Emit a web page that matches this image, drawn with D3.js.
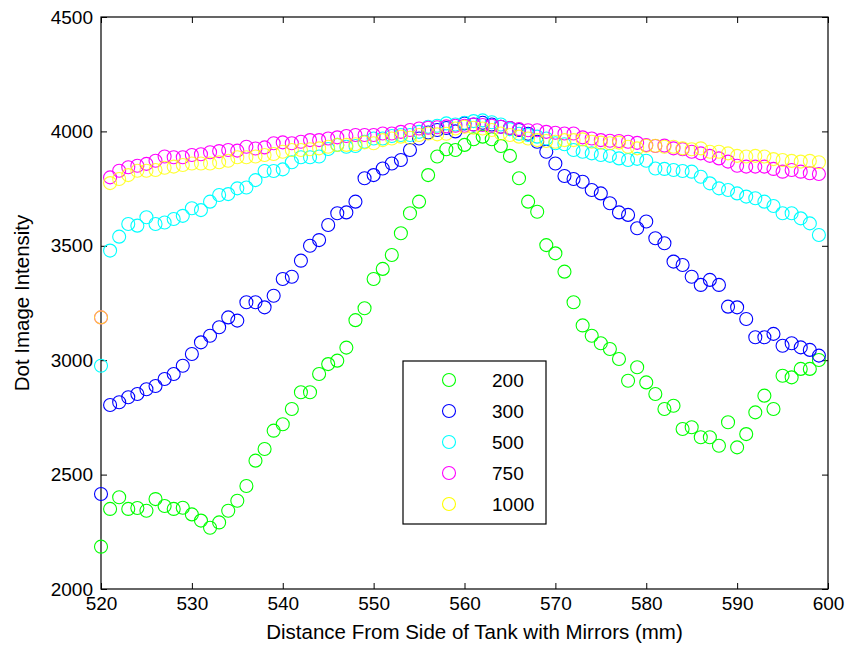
<!DOCTYPE html>
<html>
<head>
<meta charset="utf-8">
<script src="https://cdn.jsdelivr.net/npm/d3@7/dist/d3.min.js"></script>
<style>
  html, body { margin: 0; padding: 0; background: #fff; }
  svg { display: block; }
  text { font-family: "Liberation Sans", Arial, sans-serif; fill: #000; }
</style>
</head>
<body>
<svg id="chart" width="848" height="652"></svg>
<script>
// Distance positions (mm), one reading per millimetre
const distances = d3.range(520, 600);

const seriesNames = ["200", "300", "500", "750", "1000"];
const seriesColors = ["#00ff00", "#0000ff", "#00ffff", "#ff00ff", "#ffff00"];

const values200 = [
  2185, 2350, 2401, 2350, 2354, 2342, 2393, 2363, 2350, 2355,
  2326, 2299, 2268, 2291, 2342, 2386, 2450, 2561, 2612, 2692,
  2720, 2787, 2860, 2860, 2940, 2983, 2998, 3055, 3175, 3227,
  3355, 3399, 3460, 3555, 3642, 3693, 3809, 3890, 3922, 3919,
  3941, 3966, 3977, 3966, 3936, 3893, 3795, 3693, 3649, 3503,
  3467, 3387, 3253, 3152, 3107, 3074, 3049, 3005, 2910, 2969,
  2903, 2852, 2787, 2801, 2699, 2707, 2663, 2663, 2626, 2729,
  2619, 2677, 2772, 2845, 2787, 2932, 2925, 2962, 2962, 3001
];
const values300 = [
  2415, 2804, 2816, 2838, 2852, 2873, 2887, 2918, 2940, 2976,
  3027, 3078, 3107, 3144, 3187, 3173, 3253, 3253, 3231, 3282,
  3355, 3365, 3435, 3500, 3525, 3591, 3642, 3646, 3693, 3795,
  3809, 3838, 3860, 3875, 3919, 3969, 3995, 4006, 4015, 4000,
  4035, 4030, 4038, 4030, 4020, 4015, 4006, 3990, 3955, 3911,
  3860, 3805, 3792, 3780, 3744, 3729, 3686, 3646, 3635, 3577,
  3606, 3533, 3511, 3431, 3416, 3365, 3329, 3351, 3329, 3234,
  3231, 3180, 3100, 3100, 3115, 3063, 3074, 3056, 3045, 3020
];
const values500 = [
  2976, 3479, 3540, 3595, 3588, 3625, 3595, 3602, 3617, 3631,
  3664, 3656, 3693, 3722, 3726, 3751, 3755, 3787, 3827, 3827,
  3834, 3865, 3887, 3887, 3890, 3923, 3941, 3933, 3936, 3955,
  3969, 3969, 3980, 3984, 3984, 3998, 4020, 4025, 4035, 4030,
  4038, 4045, 4048, 4040, 4030, 4010, 3990, 3984, 3977, 3969,
  3948, 3944, 3919, 3911, 3904, 3897, 3893, 3882, 3875, 3880,
  3872, 3838, 3836, 3831, 3827, 3824, 3802, 3773, 3751, 3744,
  3729, 3715, 3708, 3693, 3674, 3642, 3642, 3620, 3598, 3547
];
const values750 = [
  3187, 3799, 3828, 3843, 3850, 3858, 3872, 3890, 3887, 3887,
  3897, 3900, 3909, 3914, 3919, 3916, 3933, 3925, 3930, 3948,
  3952, 3948, 3955, 3962, 3962, 3969, 3974, 3980, 3984, 3984,
  3984, 3991, 3991, 3998, 4006, 4013, 4016, 4018, 4022, 4025,
  4025, 4030, 4028, 4025, 4020, 4015, 4010, 4005, 4005, 3998,
  3994, 3991, 3991, 3974, 3969, 3962, 3959, 3958, 3955, 3950,
  3940, 3936, 3938, 3926, 3922, 3911, 3904, 3893, 3882, 3868,
  3850, 3846, 3846, 3846, 3836, 3824, 3831, 3824, 3817, 3814
];
const values1000 = [
  3187, 3774, 3792, 3809, 3828, 3828, 3831, 3841, 3846, 3853,
  3860, 3860, 3860, 3865, 3872, 3887, 3887, 3890, 3897, 3901,
  3911, 3919, 3919, 3922, 3926, 3933, 3941, 3941, 3944, 3952,
  3948, 3962, 3969, 3977, 3972, 3984, 3991, 3987, 3990, 4013,
  4020, 4016, 4013, 4006, 3991, 3984, 3977, 3969, 3962, 3958,
  3955, 3962, 3962, 3965, 3955, 3951, 3948, 3951, 3933, 3926,
  3937, 3937, 3933, 3933, 3926, 3922, 3926, 3911, 3911, 3904,
  3893, 3890, 3893, 3890, 3879, 3875, 3871, 3868, 3871, 3865
];

const xTicks = [520, 530, 540, 550, 560, 570, 580, 590, 600];
const yTicks = [2000, 2500, 3000, 3500, 4000, 4500];

const series = [values200, values300, values500, values750, values1000];

const svg = d3.select("#chart");
const margin = { left: 101, top: 17, right: 20, bottom: 63 };
const W = 848 - margin.left - margin.right;
const H = 652 - margin.top - margin.bottom;

const x = d3.scaleLinear().domain([520, 600]).range([0, W]);
const y = d3.scaleLinear().domain([2000, 4500]).range([H, 0]);

const g = svg.append("g").attr("transform", `translate(${margin.left},${margin.top})`);

// Axes: ticks point inward on all four sides (boxed plot)
const tickLen = 6;
const fontSize = 19;
const axisStyle = sel => {
  sel.select(".domain").remove();
  sel.selectAll("line").attr("stroke", "#000").attr("stroke-width", 1);
  sel.selectAll("text").attr("font-size", fontSize).style("font-family", '"Liberation Sans", Arial, sans-serif');
};

g.append("g").attr("transform", `translate(0,${H})`)
  .call(d3.axisBottom(x).tickValues(xTicks).tickFormat(d3.format("d")).tickSize(-tickLen).tickPadding(8))
  .call(axisStyle);
g.append("g")
  .call(d3.axisTop(x).tickValues(xTicks).tickFormat("").tickSize(-tickLen))
  .call(axisStyle);
g.append("g")
  .call(d3.axisLeft(y).tickValues(yTicks).tickFormat(d3.format("d")).tickSize(-tickLen).tickPadding(8))
  .call(axisStyle);
g.append("g").attr("transform", `translate(${W},0)`)
  .call(d3.axisRight(y).tickValues(yTicks).tickFormat("").tickSize(-tickLen))
  .call(axisStyle);

// Plot frame
g.append("rect").attr("x", 0).attr("y", 0).attr("width", W).attr("height", H)
  .attr("fill", "none").attr("stroke", "#000").attr("stroke-width", 1.2);

// Markers: open circles for each series, drawn in legend order
const r = 6.5;
series.forEach((vals, i) => {
  g.append("g")
    .attr("stroke", seriesColors[i])
    .attr("stroke-opacity", i === 4 ? 0.8 : 1)
    .attr("fill", "none")
    .attr("stroke-width", 1.1)
    .selectAll("circle")
    .data(vals.map((v, j) => [distances[j], v]))
    .join("circle")
    .attr("cx", d => x(d[0]))
    .attr("cy", d => y(d[1]))
    .attr("r", r);
});

// Axis titles
svg.append("text")
  .attr("x", margin.left + W / 2 + 10)
  .attr("y", 639)
  .attr("text-anchor", "middle")
  .attr("font-size", 20.5)
  .text("Distance From Side of Tank with Mirrors (mm)");

svg.append("text")
  .attr("transform", `translate(29,${margin.top + H / 2}) rotate(-90)`)
  .attr("text-anchor", "middle")
  .attr("font-size", 20.5)
  .text("Dot Image Intensity");

// Legend
const legend = svg.append("g").attr("transform", "translate(403,361)");
legend.append("rect").attr("width", 143).attr("height", 163)
  .attr("fill", "#fff").attr("stroke", "#000").attr("stroke-width", 1.2);
seriesNames.forEach((name, i) => {
  const cy = 19 + i * 31;
  legend.append("circle").attr("cx", 46).attr("cy", cy).attr("r", r)
    .attr("fill", "none").attr("stroke", seriesColors[i]).attr("stroke-width", 1.1);
  legend.append("text").attr("x", 89).attr("y", cy + 7)
    .attr("font-size", fontSize).text(name);
});
</script>
</body>
</html>
